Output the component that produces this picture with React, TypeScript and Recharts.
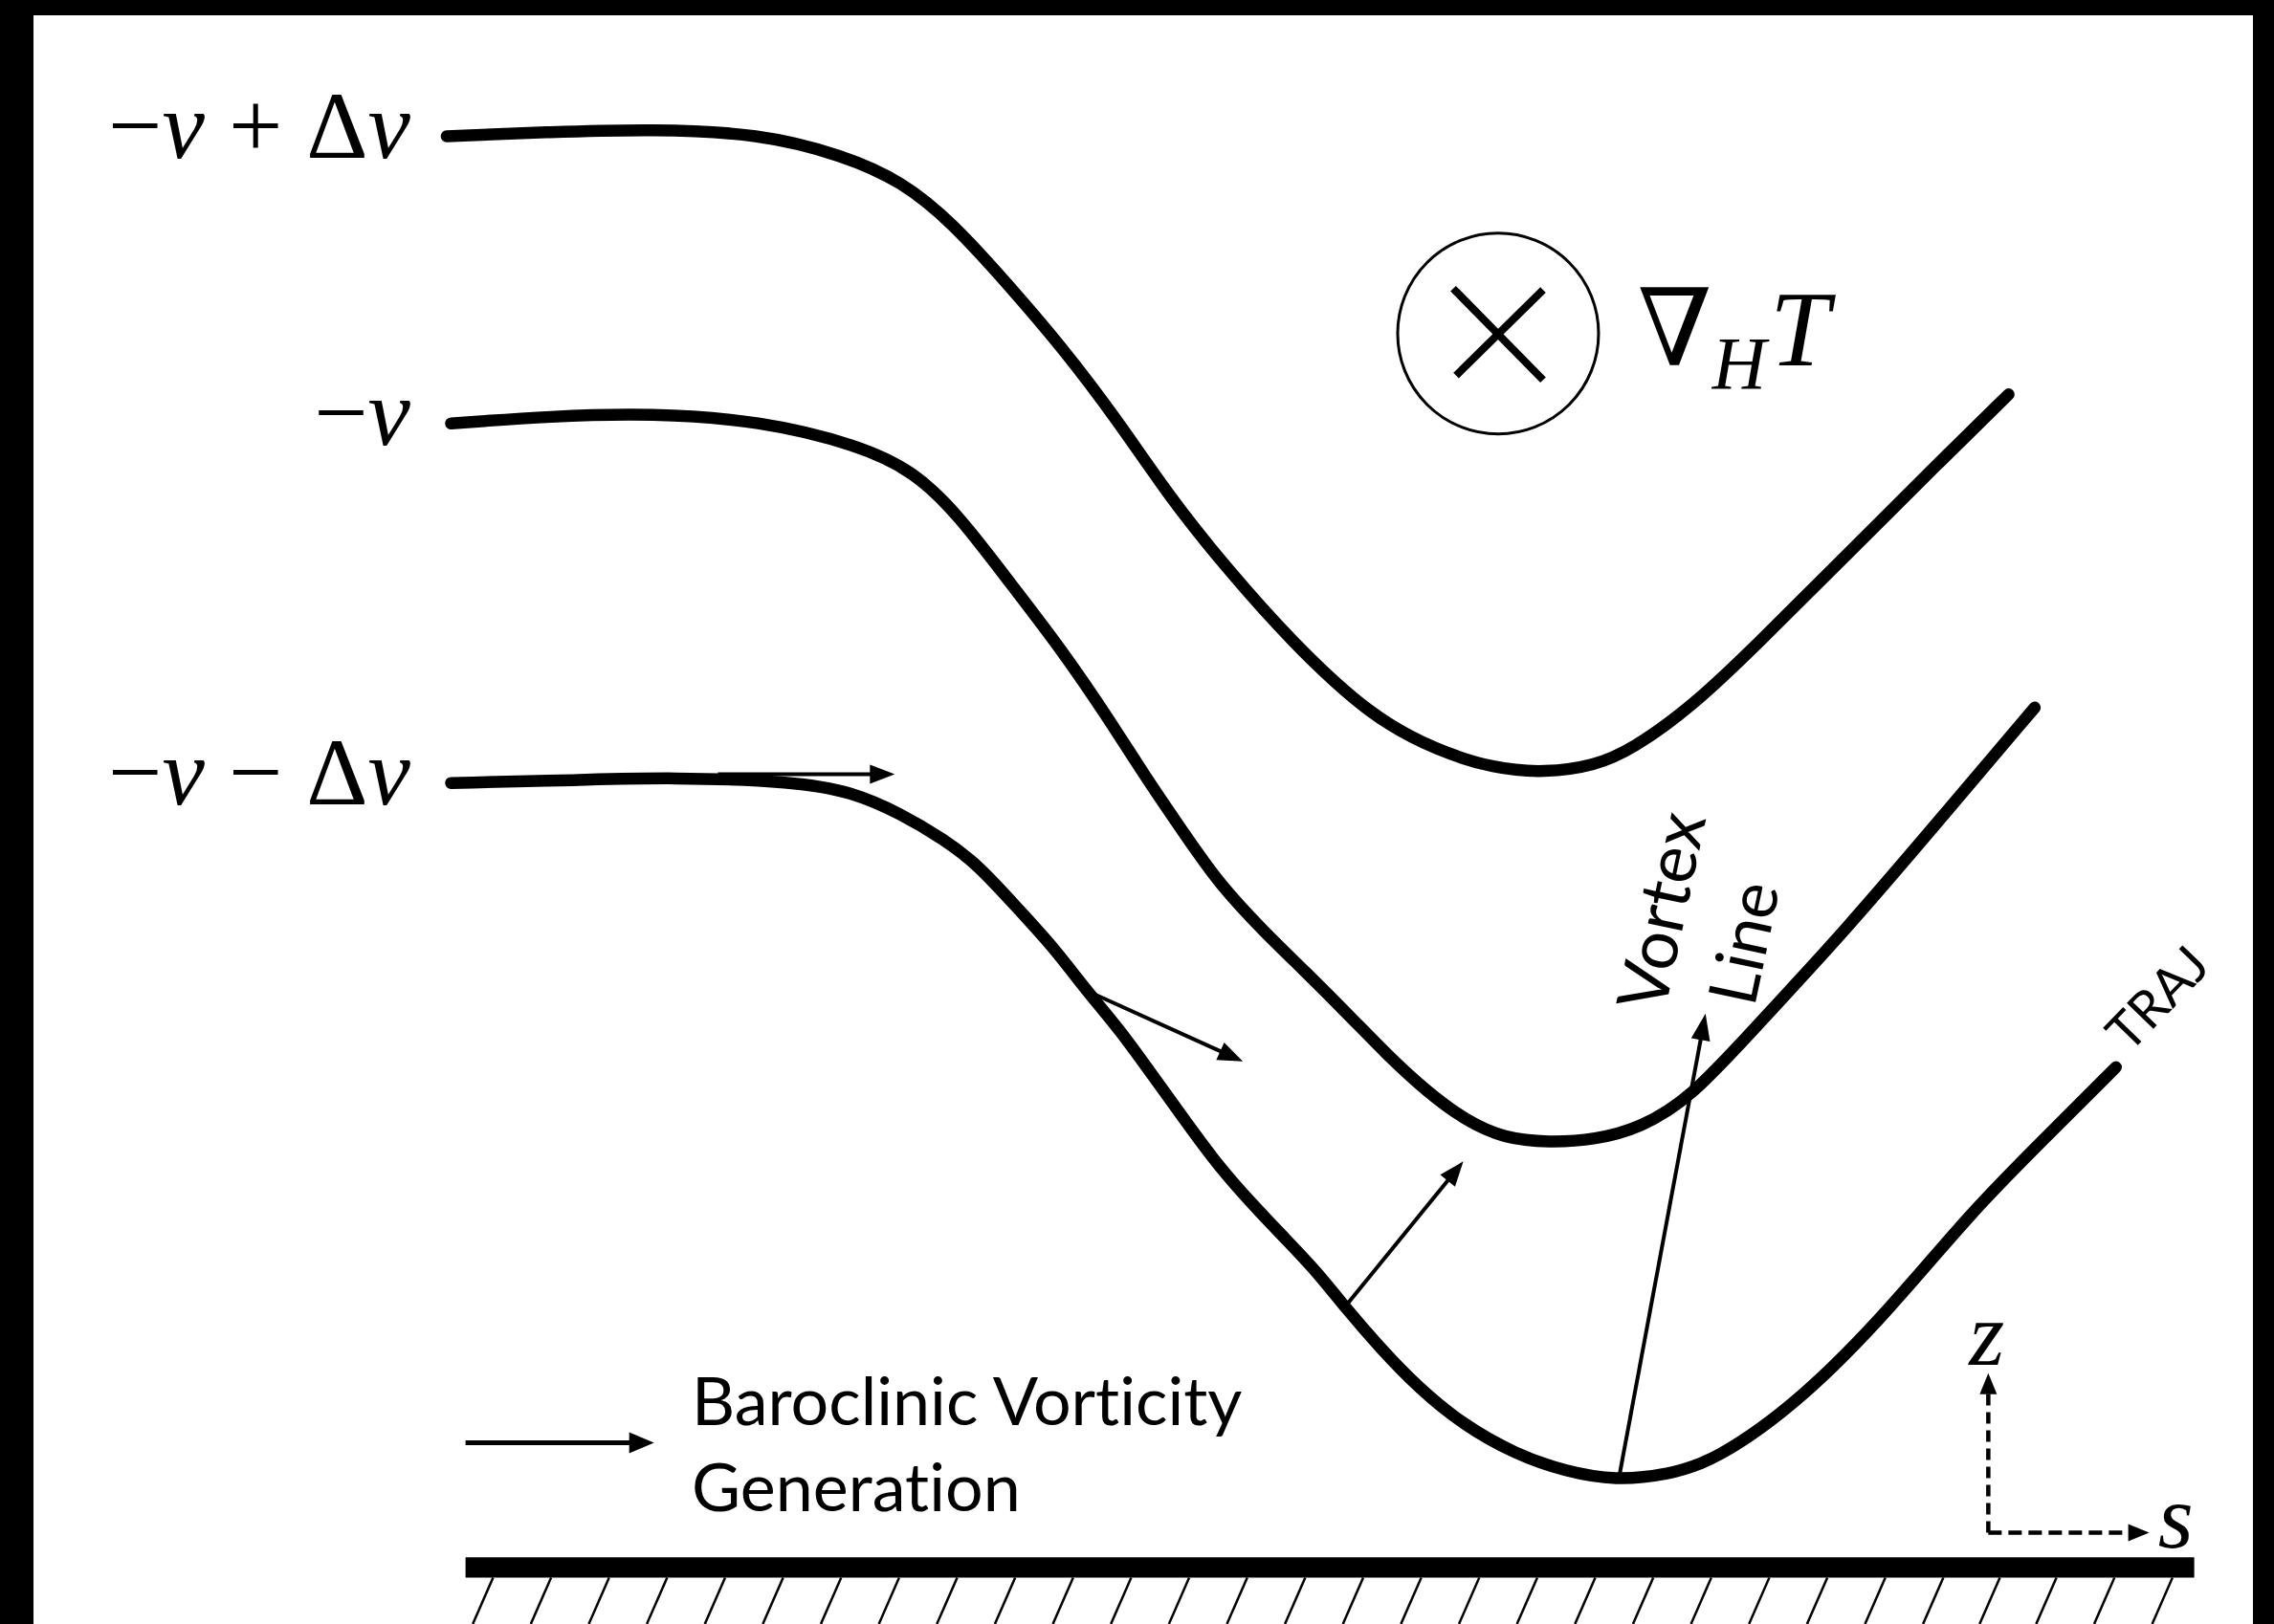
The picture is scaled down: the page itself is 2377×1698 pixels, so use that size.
import React from 'react';
import { ComposedChart, Line, XAxis, YAxis, ReferenceLine, ReferenceDot, ReferenceArea } from 'recharts';

// Sketch units: s runs left to right (0..1568), y runs top to bottom (0..1120).
const S_MAX = 1568;
const Y_MAX = 1120;

// isotach curves
const upperCurve: [number, number][] = [
  [308, 94], [380, 91], [449, 89], [524, 92], [581, 107], [622, 125], [657, 154],
  [694, 195], [732, 239], [770, 289], [808, 345], [846, 392], [890, 442], [946, 495],
  [992, 518], [1030, 530], [1065, 533], [1100, 528], [1125, 517], [1166, 488],
  [1210, 446], [1273, 383], [1336, 320], [1385, 272],
];
const middleCurve: [number, number][] = [
  [311, 292], [380, 287], [449, 285], [524, 290], [592, 307], [630, 325], [660, 354],
  [698, 404], [732, 448], [766, 498], [788, 533], [818, 577], [841, 610], [871, 642],
  [901, 671], [931, 701], [956, 727], [984, 753], [1011, 773], [1037, 785], [1068, 788],
  [1100, 786], [1131, 778], [1166, 757], [1210, 709], [1273, 641], [1336, 567], [1403, 488],
];
const lowerCurve: [number, number][] = [
  [311, 540], [400, 538], [462, 536], [549, 539], [587, 546], [621, 561], [651, 579],
  [674, 596], [704, 629], [727, 654], [749, 683], [772, 710], [795, 742], [818, 774],
  [840, 804], [863, 830], [886, 854], [908, 877], [927, 901], [952, 930], [978, 957],
  [1008, 982], [1045, 1003], [1080, 1015], [1114, 1021], [1150, 1017], [1182, 1008],
  [1243, 965], [1304, 902], [1360, 835], [1410, 785], [1459, 736],
];
const curves = [upperCurve, middleCurve, lowerCurve];
const levelLabels = ['−v + Δv', '−v', '−v − Δv'];

// baroclinic generation arrows (from, to)
const baroclinicArrows: [number, number][][] = [
  [[495, 534], [617, 534]],
  [[751, 684], [857, 732]],
  [[926, 903], [1009, 801]],
];
const vortexArrow: [number, number][] = [[1116, 1021], [1176, 699]];
const legendArrow: [number, number][] = [[321, 995], [451, 995]];
const legendLines = ['Baroclinic Vorticity', 'Generation'];

// s / z axis glyph
const axisCorner: [number, number] = [1371, 1057];
const zAxisTip: [number, number] = [1371, 947];
const sAxisTip: [number, number] = [1482, 1057];

// ground
const groundBar = { s1: 321, s2: 1513, y1: 1074, y2: 1088 };
const hatchTops = [
  340, 380, 420, 460, 500, 540, 580, 620, 660, 700, 740, 780, 820, 860, 900,
  940, 980, 1020, 1060, 1100, 1140, 1180, 1220, 1260, 1300, 1340, 1379, 1418, 1458, 1498,
];

// temperature gradient symbol
const gradCenter: [number, number] = [1033, 230];
const gradCross: [number, number][][] = [
  [[1002, 199], [1064, 262]],
  [[1064, 200], [1004, 259]],
];

const MATH_FONT = '"Liberation Serif", "DejaVu Serif", serif';
const SANS_FONT = 'Lato, "Open Sans", sans-serif';

const toPts = (c: [number, number][]) => c.map(([s, y]) => ({ s, y }));

function arrowShape(width: number, head: number, half: number, dash?: string) {
  return (p: any) => {
    const { x1, y1, x2, y2 } = p;
    const dx = x2 - x1;
    const dy = y2 - y1;
    const len = Math.hypot(dx, dy) || 1;
    const ux = dx / len;
    const uy = dy / len;
    const bx = x2 - ux * head;
    const by = y2 - uy * head;
    const pts = `${x2},${y2} ${bx - uy * half},${by + ux * half} ${bx + uy * half},${by - ux * half}`;
    return (
      <g>
        <line x1={x1} y1={y1} x2={bx + ux * 2} y2={by + uy * 2} stroke="#000" strokeWidth={width} strokeDasharray={dash} />
        <polygon points={pts} fill="#000" />
      </g>
    );
  };
}

function mathSpans(label: string) {
  return label.split('').map((ch, i) =>
    ch === 'v' ? <tspan key={i} fontStyle="italic">v</tspan> : <tspan key={i}>{ch}</tspan>
  );
}

function textShape(
  content: React.ReactNode,
  opts: { size: number; font: string; anchor?: string; rotate?: number; italic?: boolean; baseline?: string; spacing?: number }
) {
  return (p: any) => (
    <text
      x={p.cx}
      y={p.cy}
      fontSize={opts.size}
      fontFamily={opts.font}
      fontStyle={opts.italic ? 'italic' : 'normal'}
      textAnchor={opts.anchor || 'start'}
      dominantBaseline={opts.baseline || 'alphabetic'}
      letterSpacing={opts.spacing || 0}
      fill="#000"
      style={{ whiteSpace: 'pre', fontVariantLigatures: 'none', fontFeatureSettings: '"liga" 0, "clig" 0' }}
      transform={opts.rotate ? `rotate(${opts.rotate} ${p.cx} ${p.cy})` : undefined}
    >
      {content}
    </text>
  );
}

const seg = (a: [number, number], b: [number, number]) => [{ x: a[0], y: a[1] }, { x: b[0], y: b[1] }];

export default function App() {
  const W = 2377;
  const H = 1698;
  return (
    <div style={{ position: 'absolute', left: 0, top: 0, width: W, height: H, background: '#000' }}>
      <div style={{ position: 'absolute', left: 35, top: 16, width: 2320, height: H - 16, background: '#fff' }} />
      <div style={{ position: 'absolute', left: 0, top: 0 }}>
        <ComposedChart width={W} height={H} margin={{ top: 0, right: 0, bottom: 0, left: 0 }}>
          <XAxis dataKey="s" type="number" domain={[0, S_MAX]} hide allowDataOverflow />
          <YAxis type="number" domain={[0, Y_MAX]} reversed hide allowDataOverflow />

          {curves.map((c, i) => (
            <Line
              key={`curve-${i}`}
              data={toPts(c)}
              dataKey="y"
              type="basis"
              stroke="#000"
              strokeWidth={12.5}
              strokeLinecap="round"
              dot={false}
              activeDot={false}
              isAnimationActive={false}
            />
          ))}

          {curves.map((c, i) => (
            <ReferenceDot
              key={`lvl-${i}`}
              x={283}
              y={c[0][1] + 15}
              ifOverflow="visible"
              shape={textShape(mathSpans(levelLabels[i]), { size: 100, font: MATH_FONT, anchor: 'end' })}
            />
          ))}

          {baroclinicArrows.map((a, i) => (
            <ReferenceLine key={`ba-${i}`} segment={seg(a[0], a[1])} ifOverflow="visible" shape={arrowShape(4, 26, 10)} />
          ))}
          <ReferenceLine segment={seg(vortexArrow[0], vortexArrow[1])} ifOverflow="visible" shape={arrowShape(4, 28, 10)} />
          <ReferenceLine segment={seg(legendArrow[0], legendArrow[1])} ifOverflow="visible" shape={arrowShape(5, 26, 11)} />

          <ReferenceDot x={477} y={983} ifOverflow="visible" shape={textShape(legendLines[0], { size: 70, font: SANS_FONT })} />
          <ReferenceDot x={477} y={1042} ifOverflow="visible" shape={textShape(legendLines[1], { size: 70, font: SANS_FONT })} />

          <ReferenceDot x={1144} y={628} ifOverflow="visible" shape={textShape('Vortex', { size: 72, font: SANS_FONT, anchor: 'middle', rotate: -78, baseline: 'central' })} />
          <ReferenceDot x={1201} y={650} ifOverflow="visible" shape={textShape('Line', { size: 70, font: SANS_FONT, anchor: 'middle', rotate: -78, baseline: 'central' })} />
          <ReferenceDot x={1468} y={727} ifOverflow="visible" shape={textShape('TRAJ', { size: 54, font: SANS_FONT, rotate: -46 })} />

          <ReferenceLine segment={seg(axisCorner, zAxisTip)} ifOverflow="visible" shape={arrowShape(4.5, 22, 9, '12 7')} />
          <ReferenceLine segment={seg(axisCorner, sAxisTip)} ifOverflow="visible" shape={arrowShape(4.5, 22, 9, '14 7')} />
          <ReferenceDot x={1370} y={941} ifOverflow="visible" shape={textShape('z', { size: 95, font: MATH_FONT, anchor: 'middle', italic: true })} />
          <ReferenceDot x={1488} y={1067} ifOverflow="visible" shape={textShape('s', { size: 95, font: MATH_FONT, italic: true })} />

          <ReferenceDot x={gradCenter[0]} y={gradCenter[1]} r={105} fill="none" stroke="#000" strokeWidth={3} ifOverflow="visible" />
          {gradCross.map((a, i) => (
            <ReferenceLine key={`x-${i}`} segment={seg(a[0], a[1])} stroke="#000" strokeWidth={8} ifOverflow="visible" />
          ))}
          <ReferenceDot
            x={1129}
            y={252}
            ifOverflow="visible"
            shape={textShape(
              <>
                <tspan>∇</tspan>
                <tspan fontStyle="italic" fontSize={78} dy={24}>H</tspan>
                <tspan fontStyle="italic" dy={-24} dx={4}>T</tspan>
              </>,
              { size: 112, font: MATH_FONT }
            )}
          />

          <ReferenceArea
            x1={groundBar.s1}
            x2={groundBar.s2}
            y1={groundBar.y1}
            y2={groundBar.y2}
            fill="#000"
            fillOpacity={1}
            stroke="none"
            ifOverflow="visible"
          />
          {hatchTops.map((x) => (
            <ReferenceLine key={`h-${x}`} segment={[{ x, y: groundBar.y2 }, { x: x - 14, y: Y_MAX }]} stroke="#000" strokeWidth={2.5} ifOverflow="visible" />
          ))}
        </ComposedChart>
      </div>
    </div>
  );
}
